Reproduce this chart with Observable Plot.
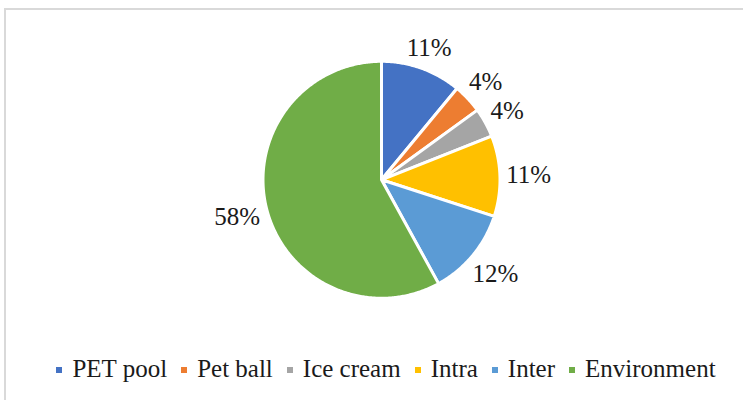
<!DOCTYPE html>
<html>
<head>
<meta charset="utf-8">
<script src="https://cdn.jsdelivr.net/npm/d3@7"></script>
<script src="https://cdn.jsdelivr.net/npm/@observablehq/plot@0.6"></script>
<style>
  html, body { margin: 0; padding: 0; background: #fff; }
  body { width: 743px; height: 400px; overflow: hidden; position: relative; font-family: "Liberation Serif", "Times New Roman", serif; }
  #frame { position: absolute; left: 4px; top: 8px; width: 762px; height: 420px; border: 2px solid #d9d9d9; box-sizing: border-box; }
  #chart { position: absolute; left: 0; top: 0; }
  #legend { position: absolute; left: 5px; width: 762px; top: 356px; display: flex; justify-content: center; font-size: 25px; line-height: 25px; color: #1a1a1a; white-space: nowrap; }
  .item { display: inline-block; margin: 0 7px; }
  .sw { display: inline-block; width: 6px; height: 6px; margin-right: 10px; vertical-align: 4px; }
</style>
</head>
<body>
<div id="frame"></div>
<div id="chart"></div>
<div id="legend"></div>
<script>
// ---- data ----
const categories = ["PET pool", "Pet ball", "Ice cream", "Intra", "Inter", "Environment"];
const shares = [11, 4, 4, 11, 12, 58];
const labelTexts = ["11%", "4%", "4%", "11%", "12%", "58%"];
const colors = ["#4472C4", "#ED7D31", "#A5A5A5", "#FFC000", "#5B9BD5", "#70AD47"];

// ---- layout ----
const W = 743, H = 345;
const CX = 381, CY = 179.3, R = 118.5;
const FONT = 25;

const rows = categories.map((c, i) => ({category: c, value: shares[i], label: labelTexts[i]}));
const arcs = d3.pie().sort(null).value(d => d.value)(rows);

// slice polygons (data units = px relative to pie centre, y up)
const pts = [];
arcs.forEach(a => {
  const c = a.data.category;
  pts.push({category: c, x: 0, y: 0});
  const n = Math.max(8, Math.ceil((a.endAngle - a.startAngle) / 0.01));
  for (let k = 0; k <= n; k++) {
    const t = a.startAngle + (a.endAngle - a.startAngle) * k / n;
    pts.push({category: c, x: R * Math.sin(t), y: R * Math.cos(t)});
  }
});

// outside-end labels
const ctx = document.createElement("canvas").getContext("2d");
ctx.font = `${FONT}px "Liberation Serif"`;
const labelPts = arcs.map(a => {
  const m = (a.startAngle + a.endAngle) / 2;
  const hw = ctx.measureText(a.data.label).width / 2;
  const hh = FONT * 0.36;
  const ext = Math.abs(Math.sin(m)) * hw + Math.abs(Math.cos(m)) * hh;
  const d = R + 6 + ext;
  return {label: a.data.label, x: d * Math.sin(m), y: d * Math.cos(m)};
});

const plot = Plot.plot({
  width: W,
  height: H,
  margin: 0,
  style: {background: "none", overflow: "visible"},
  x: {domain: [-CX, W - CX], axis: null},
  y: {domain: [-(H - CY), CY], axis: null},
  color: {domain: categories, range: colors},
  marks: [
    Plot.line(pts, {x: "x", y: "y", z: "category", fill: "category", stroke: "white", strokeWidth: 3, strokeLinejoin: "round", curve: "linear-closed"}),
    Plot.text(labelPts, {x: "x", y: "y", text: "label", fontSize: FONT, fontFamily: "Liberation Serif", fill: "#1a1a1a"})
  ]
});
document.getElementById("chart").appendChild(plot);

// legend
const legend = document.getElementById("legend");
categories.forEach((c, i) => {
  const item = document.createElement("span");
  item.className = "item";
  const sw = document.createElement("span");
  sw.className = "sw";
  sw.style.background = colors[i];
  item.appendChild(sw);
  item.appendChild(document.createTextNode(c));
  legend.appendChild(item);
});
</script>
</body>
</html>
